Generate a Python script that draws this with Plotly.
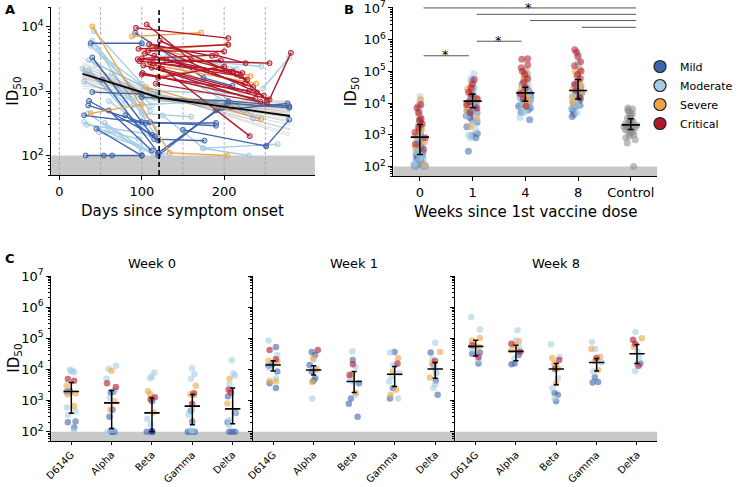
import numpy as np
import plotly.graph_objects as go

W, H = 738, 487
def px(x): return x / W
def py(y): return 1 - y / H

FONT = "DejaVu Sans"
MILD = '#3d64ad'; MOD = '#a6cde3'; SEV = '#eea446'; CRIT = '#b2182b'; CTRL = '#8a8a8a'
SEVERITIES = ['Mild', 'Moderate', 'Severe', 'Critical']
SEV_COL = {'Mild': MILD, 'Moderate': MOD, 'Severe': SEV, 'Critical': CRIT}

def rgba(h, a):
    h = h.lstrip('#')
    return 'rgba(%d,%d,%d,%.2f)' % (int(h[0:2], 16), int(h[2:4], 16), int(h[4:6], 16), a)

# ---------------- Panel A data: longitudinal ID50 per patient ----------------
crit_days = [[93, 205], [120, 231], [100, 190, 226], [95, 255], [110, 220, 252], [102, 255, 281],
             [108, 200], [115, 235], [100, 230], [112, 244], [118, 240], [97, 210], [104, 225],
             [120, 200], [125, 248], [109, 185], [130, 215], [101, 238], [114, 196], [122, 228],
             [96, 205], [117, 252], [106, 160, 222]]
crit_vals = [[9500, 6600], [2500, 200], [3200, 3600, 2700], [3100, 2700], [2800, 1700, 720], [2500, 740, 3900],
             [4200, 4100], [3500, 1150], [1800, 1000], [2300, 680], [4800, 950], [2900, 2000], [3800, 1300],
             [1600, 2400], [2200, 850], [5300, 3500], [3000, 1800], [1900, 760], [2700, 3000], [6000, 1500],
             [4500, 5200], [1300, 650], [10700, 3000, 1900]]
sev_days = [[40, 134, 204], [88, 172], [103, 204], [38, 100], [105, 245], [110, 239], [120, 188, 226], [112, 232]]
sev_vals = [[10000, 110, 100], [7000, 8000], [4200, 5300], [450, 620], [1150, 370], [2600, 1300],
            [1700, 2300, 1500], [5000, 1700]]
mod_days = [[42, 100], [36, 95], [40, 110], [30, 90], [45, 120], [35, 100], [55, 115], [33, 105], [60, 100],
            [48, 128], [52, 110], [247, 279], [174, 230], [125, 175, 265], [110, 240], [130, 245], [100, 215],
            [115, 200], [90, 190], [120, 220], [38, 112], [64, 118], [28, 80], [100, 160], [150, 235],
            [30, 98], [44, 104], [36, 120], [58, 96]]
mod_vals = [[8500, 1300], [2100, 300], [6000, 500], [1400, 700], [4700, 180], [450, 120], [320, 100], [300, 220],
            [700, 300], [230, 100], [3500, 1000], [1100, 3300], [130, 100], [420, 130, 150], [4500, 380],
            [3300, 2400], [5200, 2200], [800, 600], [600, 700], [1000, 900], [5000, 600], [1900, 260],
            [2200, 650], [450, 400], [1700, 380], [330, 140], [2600, 420], [3000, 900], [240, 180]]
mild_days = [[38, 100], [32, 54, 64, 100], [92, 175, 210], [40, 112], [40, 100], [36, 116], [52, 120],
             [120, 204, 279], [251, 279], [110, 190], [115, 176], [30, 105, 190], [45, 100], [35, 100],
             [60, 112], [150, 251], [100, 205, 279], [120, 190, 277], [80, 120]]
mild_vals = [[5500, 5500], [100, 100, 100, 100], [8000, 1600, 1200], [3300, 210], [960, 900], [700, 200],
             [1500, 110], [110, 650, 550], [140, 360], [330, 290], [180, 170], [420, 320, 320], [260, 100],
             [600, 330], [500, 120], [250, 140], [800, 700, 580], [100, 500, 640], [420, 170]]

fit_days = [28, 121, 280]
fit_vals = [1850, 790, 410]
boot_start = [1300, 1450, 1550, 1650, 1700, 1750, 1800, 1850, 1900, 1950, 2000, 2100, 2200, 2300, 2450, 2600,
              2800, 1200, 2000, 1600, 3200, 1100]
boot_mid = [700, 730, 760, 780, 800, 820, 760, 790, 810, 840, 770, 860, 740, 880, 750, 900, 720, 850, 800, 780,
            920, 690]
boot_end = [650, 560, 480, 420, 380, 300, 450, 350, 500, 260, 600, 430, 700, 220, 540, 330, 400, 250, 470, 520,
            200, 680]
day_ticks = [0, 100, 200]
day_guides = [0, 50, 100, 150, 200, 250]
vaccine_day = 121

# ---------------- Panel B data ----------------
b_cats = ['0', '1', '4', '8', 'Control']
b_mild = [
    [100, 100, 105, 110, 115, 120, 130, 140, 150, 170, 190, 200, 210, 230, 250, 280, 300, 320, 340, 380, 420,
     460, 500, 550, 600, 650, 700, 800, 900, 1000, 1100, 1300, 1600, 2000, 3000],
    [300, 800, 950, 1100, 1800, 2500, 3000, 3500, 4000, 4500, 5000, 5500, 6000, 6500, 7000, 7500, 8000, 9000,
     10000, 11000, 12000, 14000, 16000, 20000, 28000, 52000],
    [3000, 5000, 6000, 7000, 8000, 9000, 10000, 11000, 12000, 13000, 15000, 17000, 19000, 21000, 23000, 26000,
     30000, 35000, 40000, 50000],
    [3800, 4500, 5500, 6500, 7500, 8500, 10000, 12000, 14000, 16000, 18000, 20000, 22000, 25000, 28000, 32000,
     36000, 40000]]
b_moderate = [
    [100, 100, 110, 120, 140, 160, 190, 220, 260, 300, 350, 400, 480, 560, 650, 750, 850, 950, 1100, 1250, 1400,
     1600, 1800, 2100, 2500, 3000, 3600, 4500, 5500, 6500, 8000, 9500, 12000, 16000],
    [800, 1000, 1500, 2200, 3000, 4000, 5000, 6000, 7000, 8000, 9000, 10000, 11000, 12000, 13000, 15000, 17000,
     20000, 24000, 30000, 40000, 60000, 85000],
    [3500, 5000, 6500, 8000, 9500, 11000, 12500, 14000, 16000, 18000, 20000, 22000, 25000, 28000, 32000, 38000,
     45000, 55000, 70000, 90000, 110000],
    [5000, 7000, 9000, 11000, 13000, 15000, 18000, 21000, 25000, 30000, 35000, 40000, 50000, 60000, 80000,
     110000, 150000, 200000, 330000]]
b_severe = [
    [110, 400, 600, 900, 1200, 1500, 1800, 2500, 4000, 8000, 13000],
    [1800, 3500, 6000, 9000, 13000, 20000, 28000, 35000],
    [9000, 12000, 15000, 20000, 28000, 40000, 60000, 80000, 100000],
    [10000, 15000, 20000, 28000, 35000, 50000, 70000, 100000, 120000]]
b_critical = [
    [350, 500, 800, 1200, 1700, 2200, 2800, 3200, 5000, 7000, 9000],
    [5000, 7000, 9000, 11000, 14000, 18000, 22000, 30000, 40000, 55000],
    [8000, 14000, 20000, 30000, 45000, 60000, 80000, 100000, 130000, 160000, 240000, 250000],
    [15000, 25000, 40000, 60000, 80000, 100000, 150000, 200000, 300000, 400000, 480000]]
b_control = [100, 550, 700, 800, 900, 1000, 1100, 1200, 1300, 1400, 1500, 1600, 1700, 1800, 1900, 2000, 2100,
             2200, 2300, 2400, 2600, 2800, 3000, 3300, 3600, 4000, 4500, 5000, 5500, 6000, 6500, 7000]
b_med = [840, 11500, 21000, 25000, 2050]
b_hi = [2100, 19000, 31600, 55000, 3200]
b_lo = [240, 7100, 11500, 13500, 1470]
# significance brackets: (from category, to category, ID50 level)
sig_from = [0.07, 1.08, 2.09, 3.07, 0.07, 1.08]
sig_to = [4.1, 4.1, 4.1, 4.1, 0.93, 1.93]
sig_level = [1.0e7, 6.3e6, 4.0e6, 2.45e6, 3.1e5, 8.9e5]

# ---------------- Panel C data ----------------
variants = ['D614G', 'Alpha', 'Beta', 'Gamma', 'Delta']
c_titles = ['Week 0', 'Week 1', 'Week 8']
w0_mild = [[2000, 1900, 210, 200, 135], [1900, 1800, 500, 300, 105, 100, 100, 100],
           [950, 100, 100, 100, 100, 100, 105], [470, 210, 100, 100, 100, 100], [1370, 400, 200, 100, 100, 100]]
w0_moderate = [[8100, 10000, 8500, 9000, 600, 450, 350, 105, 1800], [13000, 10500, 5000, 2100, 1200, 100, 110],
               [7900, 5900, 5200, 260, 170], [10800, 7100, 5000, 510, 350, 105, 110],
               [19800, 7500, 6300, 3200, 400, 230, 160]]
w0_severe = [[3000, 1550, 1700, 660], [9000, 950, 500], [2000, 1600, 420], [3000, 1600, 1500], [5000, 800]]
w0_critical = [[4900, 4300], [3600, 2700], [1270, 1100], [1700, 780], [2200, 1800]]
w0_med = [1950, 840, 400, 660, 540]
w0_hi = [3800, 2100, 1200, 1550, 2500]
w0_lo = [390, 125, 100, 165, 180]

w1_mild = [[52000, 13800, 13000, 8500, 3600, 2500], [36000, 29000, 13800, 8500, 5200, 4300],
           [20000, 3600, 1150, 790, 300], [36000, 2500, 1150], [35000, 13800, 4300, 1530]]
w1_moderate = [[85000, 29000, 5200, 11000], [20000, 10800, 1150], [38000, 12000, 5200, 4100, 1530],
               [35000, 13800, 7500, 5900, 4100, 1150], [72000, 22000, 12000, 7900, 7500, 3200, 2500]]
w1_severe = [[19000, 18000, 4100, 4300], [23000, 9600, 3900], [7100, 1740], [23000, 8500, 2200, 1530],
             [36000, 15500, 5500]]
w1_critical = [[42000, 21000], [42000], [14500, 6600], [15500], [18500]]
w1_med = [13800, 9600, 4100, 7000, 10300]
w1_hi = [19000, 13200, 8500, 12300, 16700]
w1_lo = [8900, 6600, 1800, 2800, 5200]

w8_mild = [[35000, 32000, 15500], [29000, 15500, 14500], [1740, 1530, 950], [5600, 3900, 3800], [15500]]
w8_moderate = [[480000, 190000, 47000, 20000], [180000, 85000, 53000, 22500],
               [64000, 25000, 13800, 5200, 2500, 1200], [76000, 45000, 16500, 8500],
               [158000, 37000, 25000, 14800, 8900]]
w8_severe = [[102000, 85000, 53000], [80000, 60000, 42000], [23000, 15500, 10800, 3600],
             [45000, 25000, 18500, 9600], [100000, 53000]]
w8_critical = [[60000, 25000], [67000, 37000], [20000, 10300], [23000], [90000, 67000, 13200]]
w8_med = [55000, 38000, 10300, 16700, 31600]
w8_hi = [86000, 60000, 15500, 22500, 63000]
w8_lo = [27000, 19000, 3200, 8900, 15500]

LOD = 100

# ---------------- Figure ----------------
fig = go.Figure()

# Panel A patient trajectories
for days_l, vals_l, col in [(mod_days, mod_vals, MOD), (mild_days, mild_vals, MILD),
                            (sev_days, sev_vals, SEV), (crit_days, crit_vals, CRIT)]:
    for d, v in zip(days_l, vals_l):
        fig.add_trace(go.Scatter(x=d, y=v, mode='lines+markers', xaxis='x', yaxis='y',
                                 line=dict(color=col, width=1.4),
                                 marker=dict(size=5, color=rgba(col, 0.3), line=dict(color=col, width=1)),
                                 showlegend=False, hoverinfo='skip'))
for s, m, e in zip(boot_start, boot_mid, boot_end):
    fig.add_trace(go.Scatter(x=fit_days, y=[s, m, e], mode='lines', xaxis='x', yaxis='y',
                             line=dict(color='rgba(110,110,110,0.25)', width=1),
                             showlegend=False, hoverinfo='skip'))
fig.add_trace(go.Scatter(x=fit_days, y=fit_vals, mode='lines', xaxis='x', yaxis='y',
                         line=dict(color='black', width=1.8), showlegend=False, hoverinfo='skip'))

# Panel B strips
def strip(xaxis, yaxis, cats, vals, col, size, op):
    xs, ys = [], []
    for c, v in zip(cats, vals):
        xs += [c] * len(v)
        ys += v
    return go.Box(x=xs, y=ys, xaxis=xaxis, yaxis=yaxis, boxpoints='all', jitter=0.55, pointpos=0,
                  fillcolor='rgba(0,0,0,0)', line=dict(width=0, color='rgba(0,0,0,0)'),
                  marker=dict(color=col, size=size, opacity=op, line=dict(width=0)),
                  showlegend=False, hoverinfo='skip')

for vals, col in [(b_mild, MILD), (b_moderate, MOD), (b_severe, SEV), (b_critical, CRIT)]:
    fig.add_trace(strip('x2', 'y2', b_cats[:4], vals, col, 7, 0.55))
fig.add_trace(strip('x2', 'y2', ['Control'], [b_control], CTRL, 7, 0.55))

def summary(xaxis, yaxis, cats, med, hi, lo, msize, cap):
    return go.Scatter(x=cats, y=med, xaxis=xaxis, yaxis=yaxis, mode='markers',
                      marker=dict(symbol='line-ew', size=msize, line=dict(color='black', width=1.6)),
                      error_y=dict(type='data', symmetric=False,
                                   array=[h - m for h, m in zip(hi, med)],
                                   arrayminus=[m - l for m, l in zip(med, lo)],
                                   color='black', thickness=1.5, width=cap),
                      showlegend=False, hoverinfo='skip')

fig.add_trace(summary('x2', 'y2', b_cats, b_med, b_hi, b_lo, 13, 3))

# legend entries
for s in SEVERITIES:
    fig.add_trace(go.Scatter(x=[None], y=[None], xaxis='x2', yaxis='y2', mode='markers', name=s,
                             marker=dict(size=12, color=SEV_COL[s], line=dict(color='#222222', width=1.2))))

# Panel C strips
c_data = [(w0_mild, w0_moderate, w0_severe, w0_critical, w0_med, w0_hi, w0_lo),
          (w1_mild, w1_moderate, w1_severe, w1_critical, w1_med, w1_hi, w1_lo),
          (w8_mild, w8_moderate, w8_severe, w8_critical, w8_med, w8_hi, w8_lo)]
for k, (mi, mo, se, cr, me, hi, lo) in enumerate(c_data):
    xa, ya = 'x%d' % (k + 3), 'y%d' % (k + 3)
    for vals, col in [(mi, MILD), (mo, MOD), (se, SEV), (cr, CRIT)]:
        fig.add_trace(strip(xa, ya, variants, vals, col, 6.5, 0.6))
    fig.add_trace(summary(xa, ya, variants, me, hi, lo, 11, 2.5))

# ---------------- Axes ----------------
tickfont = dict(family=FONT, size=13, color='black')
base = dict(showline=True, linecolor='black', linewidth=1, ticks='outside', ticklen=4, tickwidth=1,
            tickcolor='black', showgrid=False, zeroline=False, tickfont=tickfont, automargin=False,
            ticklabeloverflow='allow')
minor_vals = [m * 10 ** e for e in range(1, 7) for m in range(2, 10)]
def logaxis(lo, hi, dom, labels=True, anchor=None):
    decs = [10 ** e for e in range(2, 8) if 10 ** e <= hi * 1.01]
    d = dict(base, type='log', range=[np.log10(lo), np.log10(hi)], domain=dom,
             tickvals=decs, ticktext=['10<sup>%d</sup>' % int(round(np.log10(v))) for v in decs],
             showticklabels=labels,
             minor=dict(ticks='outside', ticklen=2, tickwidth=0.8, tickcolor='black', tickvals=minor_vals,
                        showgrid=False))
    if anchor:
        d['anchor'] = anchor
    return d

A_dom_x = [px(52), px(320)]
A_dom_y = [py(175), py(7)]
B_dom_x = [px(400), px(668)]
B_dom_y = [py(176), py(7)]
C_dom_y = [py(441), py(276)]
C_edges = [52, 257, 463, 668]

layout = dict(
    template='none',
    width=W, height=H, margin=dict(l=0, r=0, t=0, b=0, pad=0), paper_bgcolor='white', plot_bgcolor='white',
    font=dict(family=FONT, color='black'), boxmode='overlay',
    xaxis=dict(base, domain=A_dom_x, range=[-10, 310], tickvals=day_ticks, anchor='y'),
    yaxis=logaxis(50, 20000, A_dom_y, anchor='x'),
    xaxis2=dict(base, domain=B_dom_x, type='category', categoryorder='array', categoryarray=b_cats,
                range=[-0.5, 4.5], anchor='y2'),
    yaxis2=logaxis(50, 10 ** 7.03, B_dom_y, anchor='x2'),
    showlegend=True,
    legend=dict(x=px(651), y=py(52), xanchor='left', yanchor='top', font=dict(family=FONT, size=11),
                bgcolor='rgba(0,0,0,0)', itemsizing='trace', tracegroupgap=0, borderwidth=0),
)
for k in range(3):
    layout['xaxis%d' % (k + 3)] = dict(base, domain=[px(C_edges[k]), px(C_edges[k + 1])], type='category',
                                        categoryorder='array', categoryarray=variants, range=[-0.5, 4.5],
                                        tickangle=-45, ticklen=3,
                                        tickfont=dict(family=FONT, size=10, color='black'),
                                        anchor='y%d' % (k + 3))
    layout['yaxis%d' % (k + 3)] = logaxis(50, 1e7, C_dom_y, labels=(k == 0), anchor='x%d' % (k + 3))
fig.update_layout(**layout)

# ---------------- Shapes ----------------
shapes = []
band = '#c8c8c8'
shapes.append(dict(type='rect', xref='x domain', yref='y', x0=0, x1=1, y0=50, y1=LOD, fillcolor=band,
                   line=dict(width=0), layer='below'))
shapes.append(dict(type='rect', xref='x2 domain', yref='y2', x0=0, x1=1, y0=50, y1=LOD, fillcolor=band,
                   line=dict(width=0), layer='below'))
for k in range(3):
    shapes.append(dict(type='rect', xref='x%d domain' % (k + 3), yref='y%d' % (k + 3), x0=0, x1=1, y0=50,
                       y1=LOD, fillcolor=band, line=dict(width=0), layer='below'))
for d in day_guides:
    shapes.append(dict(type='line', xref='x', yref='y domain', x0=d, x1=d, y0=0, y1=1,
                       line=dict(color='#a0a0a0', width=0.8, dash='3px,2px'), layer='below'))
shapes.append(dict(type='line', xref='x', yref='y domain', x0=vaccine_day, x1=vaccine_day, y0=0, y1=1,
                   line=dict(color='black', width=1.6, dash='5px,3px'), layer='above'))
for a, b, lv in zip(sig_from, sig_to, sig_level):
    shapes.append(dict(type='line', xref='x2', yref='y2', x0=a, x1=b, y0=lv, y1=lv,
                       line=dict(color='#555555', width=1), layer='above'))
fig.update_layout(shapes=shapes)

# ---------------- Annotations ----------------
ann = []
def txt(x, y, t, size=13, bold=False, angle=0, xanchor='center', yanchor='middle'):
    ann.append(dict(x=px(x), y=py(y), xref='paper', yref='paper', text=('<b>%s</b>' % t) if bold else t,
                    showarrow=False, font=dict(family=FONT, size=size, color='black'), textangle=angle,
                    xanchor=xanchor, yanchor=yanchor))
txt(3, 10, 'A', 13, True, xanchor='left')
txt(348, 10, 'B', 13, True, xanchor='left')
txt(3, 258, 'C', 13, True, xanchor='left')
txt(186, 211, 'Days since symptom onset', 15)
txt(534, 212, 'Weeks since 1st vaccine dose', 15)
txt(14, 91, 'ID<sub>50</sub>', 15, angle=-90)
txt(357, 92, 'ID<sub>50</sub>', 15, angle=-90)
txt(14, 358, 'ID<sub>50</sub>', 15, angle=-90)
for k, t in enumerate(c_titles):
    txt((C_edges[k] + C_edges[k + 1]) / 2, 263, t, 13)
txt(537, 7, '*', 13)
txt(453, 55, '*', 13)
txt(507, 40, '*', 13)
fig.update_layout(annotations=ann)

fig.write_html("out.html", config={'displayModeBar': False},
               post_script="document.body.style.margin='0';document.body.style.overflow='hidden';")
